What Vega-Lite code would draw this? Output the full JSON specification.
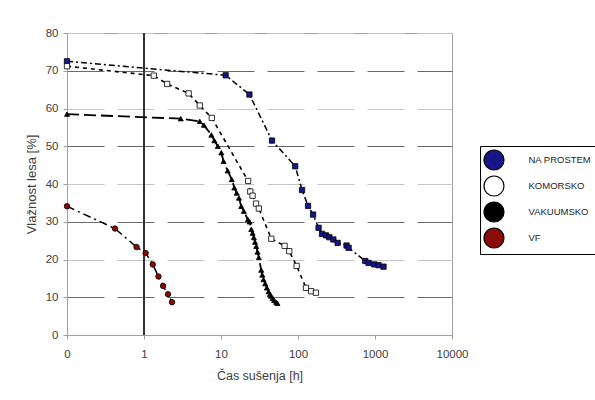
{
  "$schema": "https://vega.github.io/schema/vega-lite/v6.json",
  "autosize": {"type": "none"},
  "width": 385,
  "height": 302,
  "padding": {"left": 67, "top": 33, "right": 143, "bottom": 65},
  "background": "white",
  "config": {
    "font": "Liberation Sans",
    "view": {"stroke": "#a0a0a0", "strokeWidth": 1},
    "axis": {"labelFont": "Liberation Sans", "titleFont": "Liberation Sans", "labelColor": "#404040", "titleColor": "#404040", "titleFontWeight": "normal", "domainColor": "#a0a0a0", "tickColor": "#a0a0a0"},
    "legend": {"orient": "none", "legendX": 413, "legendY": 113, "title": null,
      "strokeColor": "#000000", "fillColor": "#ffffff", "padding": 3,
      "symbolSize": 400, "symbolStrokeWidth": 1.2, "symbolOpacity": 1,
      "labelFont": "Liberation Sans", "labelFontSize": 9.5, "labelColor": "#222222", "labelOffset": 23.5, "rowPadding": 0}
  },
  "data": {"values": [
    {"series": "NA PROSTEM", "x": 0.1, "y": 72.5},
    {"series": "NA PROSTEM", "x": 11.5, "y": 68.8},
    {"series": "NA PROSTEM", "x": 23.4, "y": 63.7},
    {"series": "NA PROSTEM", "x": 46, "y": 51.5},
    {"series": "NA PROSTEM", "x": 92, "y": 44.7},
    {"series": "NA PROSTEM", "x": 113, "y": 38.4},
    {"series": "NA PROSTEM", "x": 135, "y": 34.2},
    {"series": "NA PROSTEM", "x": 157, "y": 31.9},
    {"series": "NA PROSTEM", "x": 185, "y": 28.4},
    {"series": "NA PROSTEM", "x": 205, "y": 26.8},
    {"series": "NA PROSTEM", "x": 231, "y": 26.4},
    {"series": "NA PROSTEM", "x": 255, "y": 25.9},
    {"series": "NA PROSTEM", "x": 288, "y": 25.3},
    {"series": "NA PROSTEM", "x": 327, "y": 24.4},
    {"series": "NA PROSTEM", "x": 427, "y": 23.7},
    {"series": "NA PROSTEM", "x": 454, "y": 23.1},
    {"series": "NA PROSTEM", "x": 747, "y": 19.6},
    {"series": "NA PROSTEM", "x": 824, "y": 19.1},
    {"series": "NA PROSTEM", "x": 977, "y": 18.7},
    {"series": "NA PROSTEM", "x": 1110, "y": 18.5},
    {"series": "NA PROSTEM", "x": 1290, "y": 18.1},
    {"series": "KOMORSKO", "x": 0.1, "y": 71.2},
    {"series": "KOMORSKO", "x": 1.34, "y": 68.7},
    {"series": "KOMORSKO", "x": 2.0, "y": 66.5},
    {"series": "KOMORSKO", "x": 3.8, "y": 64.0},
    {"series": "KOMORSKO", "x": 5.3, "y": 60.8},
    {"series": "KOMORSKO", "x": 7.6, "y": 57.5},
    {"series": "KOMORSKO", "x": 22.5, "y": 40.8},
    {"series": "KOMORSKO", "x": 24, "y": 38.0},
    {"series": "KOMORSKO", "x": 25.7, "y": 36.9},
    {"series": "KOMORSKO", "x": 28.5, "y": 34.8},
    {"series": "KOMORSKO", "x": 31, "y": 33.5},
    {"series": "KOMORSKO", "x": 45, "y": 25.5},
    {"series": "KOMORSKO", "x": 67, "y": 23.6},
    {"series": "KOMORSKO", "x": 77, "y": 22.2},
    {"series": "KOMORSKO", "x": 96, "y": 18.3},
    {"series": "KOMORSKO", "x": 127, "y": 12.5},
    {"series": "KOMORSKO", "x": 148, "y": 11.6},
    {"series": "KOMORSKO", "x": 171, "y": 11.2},
    {"series": "VAKUUMSKO", "x": 0.1, "y": 58.5},
    {"series": "VAKUUMSKO", "x": 3.0, "y": 57.3},
    {"series": "VAKUUMSKO", "x": 5.3, "y": 56.6},
    {"series": "VAKUUMSKO", "x": 6.0, "y": 55.6},
    {"series": "VAKUUMSKO", "x": 7.5, "y": 53.0},
    {"series": "VAKUUMSKO", "x": 8.2, "y": 51.5},
    {"series": "VAKUUMSKO", "x": 9.1, "y": 50.0},
    {"series": "VAKUUMSKO", "x": 10.1, "y": 48.3},
    {"series": "VAKUUMSKO", "x": 10.8, "y": 46.0},
    {"series": "VAKUUMSKO", "x": 12.2, "y": 43.5},
    {"series": "VAKUUMSKO", "x": 13.8, "y": 41.2},
    {"series": "VAKUUMSKO", "x": 14.9, "y": 39.0},
    {"series": "VAKUUMSKO", "x": 16.0, "y": 37.6},
    {"series": "VAKUUMSKO", "x": 17.1, "y": 36.3},
    {"series": "VAKUUMSKO", "x": 18.3, "y": 34.1},
    {"series": "VAKUUMSKO", "x": 19.8, "y": 32.8},
    {"series": "VAKUUMSKO", "x": 22.3, "y": 30.6},
    {"series": "VAKUUMSKO", "x": 23.5, "y": 30.0},
    {"series": "VAKUUMSKO", "x": 24.7, "y": 28.0},
    {"series": "VAKUUMSKO", "x": 25.7, "y": 27.0},
    {"series": "VAKUUMSKO", "x": 26.7, "y": 25.8},
    {"series": "VAKUUMSKO", "x": 27.7, "y": 24.6},
    {"series": "VAKUUMSKO", "x": 28.7, "y": 23.5},
    {"series": "VAKUUMSKO", "x": 29.8, "y": 22.0},
    {"series": "VAKUUMSKO", "x": 31.0, "y": 20.5},
    {"series": "VAKUUMSKO", "x": 33.3, "y": 17.2},
    {"series": "VAKUUMSKO", "x": 34.4, "y": 15.9},
    {"series": "VAKUUMSKO", "x": 35.6, "y": 14.7},
    {"series": "VAKUUMSKO", "x": 37.5, "y": 13.6},
    {"series": "VAKUUMSKO", "x": 39.4, "y": 12.5},
    {"series": "VAKUUMSKO", "x": 41.5, "y": 11.5},
    {"series": "VAKUUMSKO", "x": 43.2, "y": 10.8},
    {"series": "VAKUUMSKO", "x": 44.9, "y": 10.3},
    {"series": "VAKUUMSKO", "x": 47.0, "y": 9.7},
    {"series": "VAKUUMSKO", "x": 49.1, "y": 9.2},
    {"series": "VAKUUMSKO", "x": 52.0, "y": 8.7},
    {"series": "VAKUUMSKO", "x": 54.0, "y": 8.4},
    {"series": "VF", "x": 0.1, "y": 34.1},
    {"series": "VF", "x": 0.42, "y": 28.2},
    {"series": "VF", "x": 0.8, "y": 23.3},
    {"series": "VF", "x": 1.05, "y": 21.7},
    {"series": "VF", "x": 1.3, "y": 18.7},
    {"series": "VF", "x": 1.54, "y": 15.5},
    {"series": "VF", "x": 1.77, "y": 13.0},
    {"series": "VF", "x": 2.05, "y": 10.8},
    {"series": "VF", "x": 2.31, "y": 8.7}
  ]},
  "encoding": {
    "x": {"field": "x", "type": "quantitative",
      "scale": {"type": "log", "domain": [0.1, 10000], "nice": false},
      "axis": {"values": [0.1, 1, 10, 100, 1000, 10000], "labelExpr": "datum.value < 1 ? '0' : format(datum.value, 'd')",
        "grid": false, "tickSize": 4, "labelPadding": 9, "labelFontSize": 11.5, "labelFlush": false,
        "title": "Čas sušenja [h]", "titleFontSize": 12.5, "titlePadding": 10}},
    "y": {"field": "y", "type": "quantitative",
      "scale": {"domain": [0, 80], "nice": false},
      "axis": {"values": [0, 10, 20, 30, 40, 50, 60, 70, 80], "tickSize": 4, "labelPadding": 5, "labelFontSize": 11.5,
        "grid": true, "gridDash": [37, 13],
        "gridColor": {"condition": {"test": "datum.value % 20 == 10", "value": "#6a6a6a"}, "value": "#c4c4c4"},
        "title": "Vlažnost lesa [%]", "titleFontSize": 13, "titlePadding": 7}},
    "fill": {"field": "series", "type": "nominal",
      "scale": {"domain": ["NA PROSTEM", "KOMORSKO", "VAKUUMSKO", "VF"], "range": ["#16168a", "#ffffff", "#000000", "#8b0a0a"]},
      "legend": {
        "encode": {"symbols": {
          "shape": {"signal": "datum.value == 'NA PROSTEM' ? 'M-1,0H-0.46M-0.03,0H0.14M0.85,-0.3H1.45V0.3H0.85ZM2.01,0H2.18M2.7,0H3.3' : datum.value == 'KOMORSKO' ? 'M-1,0H-0.68M-0.03,0H0.85M0.85,-0.3H1.45V0.3H0.85ZM1.45,0H1.8M2.66,0H3.09' : datum.value == 'VAKUUMSKO' ? 'M-1,0H2.5M1.15,-0.38L1.5,0.25H0.8Z' : 'M-1,0H0.61M1.47,0H1.9M2.66,0H2.98M0.85,0A0.3,0.3 0 1,0 1.45,0A0.3,0.3 0 1,0 0.85,0Z'"},
          "stroke": {"value": "#000000"},
          "strokeWidth": {"value": 1.2}
        }}}}
  },
  "layer": [
    {"mark": {"type": "rule", "color": "#333333", "strokeWidth": 1},
     "encoding": {"x": {"datum": 1}, "y": null, "fill": null}},
    {"transform": [{"filter": "datum.series == 'NA PROSTEM'"}],
     "mark": {"type": "line", "color": "black", "strokeWidth": 1.5, "strokeDash": [6, 3, 2, 3]},
     "encoding": {"fill": null}},
    {"transform": [{"filter": "datum.series == 'KOMORSKO'"}],
     "mark": {"type": "line", "color": "black", "strokeWidth": 1.6, "strokeDash": [4, 4]},
     "encoding": {"fill": null}},
    {"transform": [{"filter": "datum.series == 'VAKUUMSKO'"}],
     "mark": {"type": "line", "color": "black", "strokeWidth": 1.8, "strokeDash": [12, 5]},
     "encoding": {"fill": null}},
    {"transform": [{"filter": "datum.series == 'VF'"}],
     "mark": {"type": "line", "color": "black", "strokeWidth": 1.5, "strokeDash": [8, 4, 2, 4]},
     "encoding": {"fill": null}},
    {"transform": [{"filter": "datum.series == 'NA PROSTEM' || datum.series == 'KOMORSKO'"}],
     "mark": {"type": "point", "shape": "square", "filled": true, "stroke": "black", "strokeWidth": 0.8, "opacity": 1, "size": 28}},
    {"transform": [{"filter": "datum.series == 'VAKUUMSKO'"}],
     "mark": {"type": "point", "shape": "triangle-up", "filled": true, "stroke": "black", "strokeWidth": 0.8, "opacity": 1, "size": 26}},
    {"transform": [{"filter": "datum.series == 'VF'"}],
     "mark": {"type": "point", "shape": "circle", "filled": true, "stroke": "black", "strokeWidth": 0.8, "opacity": 1, "size": 30}}
  ]
}
